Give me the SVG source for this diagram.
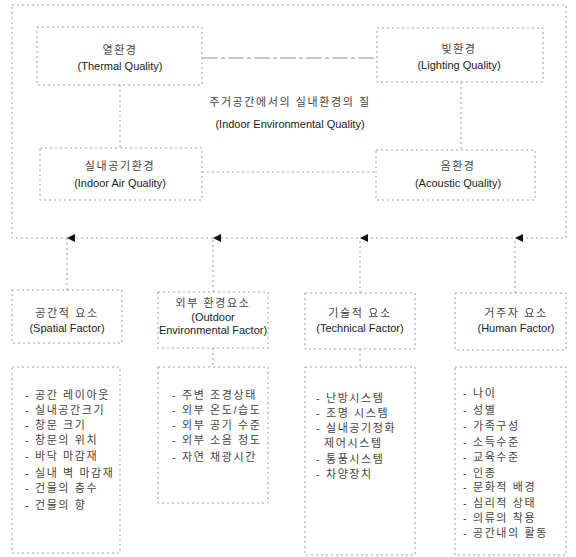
<svg xmlns="http://www.w3.org/2000/svg" width="576" height="557" viewBox="0 0 576 557">
<defs>
<style>
.box{fill:none;stroke:#a0a0a0;stroke-width:1;stroke-dasharray:2 3}
.ln{fill:none;stroke:#a0a0a0;stroke-width:1;stroke-dasharray:2 3}
.solid{fill:none;stroke:#909090;stroke-width:1.2;stroke-dasharray:16 3 4 3}
text{font-family:"Liberation Sans","Noto Sans CJK KR",sans-serif;font-size:11px;fill:#222}
.ko{fill:#444;letter-spacing:1.6px}
.c{text-anchor:middle}
</style>
<marker id="ah" viewBox="0 0 8 8" refX="4" refY="0" markerWidth="8" markerHeight="8" orient="auto" markerUnits="userSpaceOnUse">
<path d="M0,8 L4,0 L8,8 Z" fill="#111"/>
</marker>
</defs>
<rect width="576" height="557" fill="#fff"/>

<g id="outer">
<rect class="box" x="12" y="5" width="554" height="233"/>
<text class="c ko" x="290" y="106">주거공간에서의 실내환경의 질</text>
<text class="c" x="290" y="128">(Indoor Environmental Quality)</text>
</g>

<g id="connectors">
<line class="solid" x1="202" y1="58" x2="377" y2="58"/>
<line class="ln" x1="120" y1="85" x2="120" y2="148"/>
<line class="ln" x1="461" y1="82" x2="461" y2="150"/>
<line class="ln" x1="202" y1="172" x2="376" y2="172"/>
<line class="ln" x1="67" y1="290" x2="67" y2="238" marker-end="url(#ah)"/>
<line class="ln" x1="213" y1="292" x2="213" y2="238" marker-end="url(#ah)"/>
<line class="ln" x1="360" y1="293" x2="360" y2="238" marker-end="url(#ah)"/>
<line class="ln" x1="515" y1="293" x2="515" y2="238" marker-end="url(#ah)"/>
<line class="ln" x1="213" y1="348" x2="213" y2="367"/>
<line class="ln" x1="360" y1="349" x2="360" y2="367"/>
</g>

<g id="thermal">
<rect class="box" x="37" y="27" width="165" height="58"/>
<text class="c ko" x="120" y="54">열환경</text>
<text class="c" x="120" y="70">(Thermal Quality)</text>
</g>
<g id="lighting">
<rect class="box" x="377" y="28" width="166" height="54"/>
<text class="c ko" x="459" y="53">빛환경</text>
<text class="c" x="459" y="69">(Lighting Quality)</text>
</g>
<g id="indoorair">
<rect class="box" x="40" y="148" width="162" height="52"/>
<text class="c ko" x="120" y="170">실내공기환경</text>
<text class="c" x="120" y="187">(Indoor Air Quality)</text>
</g>
<g id="acoustic">
<rect class="box" x="376" y="150" width="159" height="50"/>
<text class="c ko" x="458" y="170">음환경</text>
<text class="c" x="458" y="187">(Acoustic Quality)</text>
</g>

<g id="spatial">
<rect class="box" x="12" y="290" width="110" height="53"/>
<text class="c ko" x="67" y="317">공간적 요소</text>
<text class="c" x="67" y="332">(Spatial Factor)</text>
</g>
<g id="outdoor">
<rect class="box" x="158" y="292" width="110" height="56"/>
<text class="c ko" x="213" y="307">외부 환경요소</text>
<text class="c" x="213" y="321">(Outdoor</text>
<text class="c" x="213" y="334">Environmental Factor)</text>
</g>
<g id="technical">
<rect class="box" x="305" y="293" width="110" height="56"/>
<text class="c ko" x="360" y="317">기술적 요소</text>
<text class="c" x="360" y="332">(Technical Factor)</text>
</g>
<g id="human">
<rect class="box" x="455" y="293" width="111" height="57"/>
<text class="c ko" x="516" y="317">거주자 요소</text>
<text class="c" x="516" y="332">(Human Factor)</text>
</g>

<g id="spatial-list">
<rect class="box" x="12" y="367" width="108" height="186"/>
<text class="ko" x="25" y="399">- 공간 레이아웃</text>
<text class="ko" x="25" y="414">- 실내공간크기</text>
<text class="ko" x="25" y="429">- 창문 크기</text>
<text class="ko" x="25" y="444">- 창문의 위치</text>
<text class="ko" x="25" y="460">- 바닥 마감재</text>
<text class="ko" x="25" y="477">- 실내 벽 마감재</text>
<text class="ko" x="25" y="492">- 건물의 층수</text>
<text class="ko" x="25" y="509">- 건물의 향</text>
</g>
<g id="outdoor-list">
<rect class="box" x="158" y="367" width="110" height="136"/>
<text class="ko" x="172" y="399">- 주변 조경상태</text>
<text class="ko" x="172" y="414">- 외부 온도/습도</text>
<text class="ko" x="172" y="429">- 외부 공기 수준</text>
<text class="ko" x="172" y="444">- 외부 소음 정도</text>
<text class="ko" x="172" y="461">- 자연 채광시간</text>
</g>
<g id="technical-list">
<rect class="box" x="305" y="367" width="110" height="188"/>
<text class="ko" x="316" y="402">- 난방시스템</text>
<text class="ko" x="316" y="417">- 조명 시스템</text>
<text class="ko" x="316" y="432">- 실내공기정화</text>
<text class="ko" x="324" y="447">제어시스템</text>
<text class="ko" x="316" y="463">- 통풍시스템</text>
<text class="ko" x="316" y="478">- 차양장치</text>
</g>
<g id="human-list">
<rect class="box" x="455" y="367" width="111" height="188"/>
<text class="ko" x="463" y="397">- 나이</text>
<text class="ko" x="463" y="414">- 성별</text>
<text class="ko" x="463" y="430">- 가족구성</text>
<text class="ko" x="463" y="446">- 소득수준</text>
<text class="ko" x="463" y="461">- 교육수준</text>
<text class="ko" x="463" y="477">- 인종</text>
<text class="ko" x="463" y="491">- 문화적 배경</text>
<text class="ko" x="463" y="507">- 심리적 상태</text>
<text class="ko" x="463" y="522">- 의류의 착용</text>
<text class="ko" x="463" y="537">- 공간내의 활동</text>
</g>
</svg>
